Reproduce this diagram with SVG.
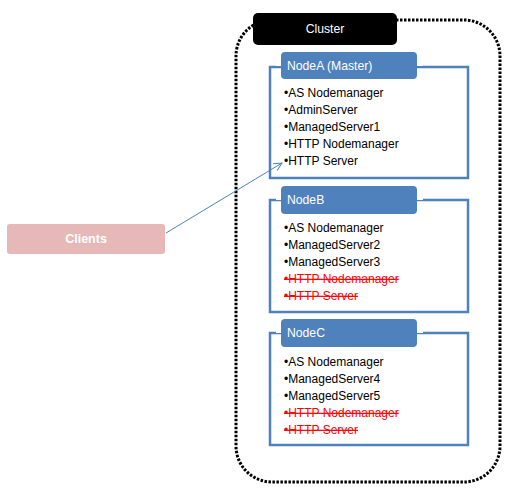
<svg xmlns="http://www.w3.org/2000/svg" width="513" height="499" viewBox="0 0 513 499">
<defs>
<style>
.box{fill:#fff;stroke:#4f81bd;stroke-width:2.5}
.hdr{fill:#4f81bd}
.ht{fill:#fff;font-family:"Liberation Sans",Arial,sans-serif;font-size:12.2px}
.it{fill:#000;font-family:"Liberation Sans",Arial,sans-serif;font-size:12px}
.del{fill:#ff0000;text-decoration:line-through}
</style>
<marker id="arr" markerWidth="10" markerHeight="10" refX="9" refY="5" orient="auto" markerUnits="userSpaceOnUse">
<path d="M1,1 L9,5 L1,9" fill="none" stroke="#4f81bd" stroke-width="1"/>
</marker>
</defs>
<rect width="513" height="499" fill="#fff"/>
<g id="cluster">
<rect x="236" y="20" width="264" height="462" rx="36" ry="36" fill="none" stroke="#000" stroke-width="3" stroke-dasharray="2.5,1.5"/>
<rect x="253" y="13" width="144" height="32" rx="5" fill="#000"/>
<text x="325" y="33" text-anchor="middle" class="ht" font-size="13">Cluster</text>
</g>
<g id="nodeA">
<rect class="box" x="270" y="67" width="198" height="111"/>
<rect x="276" y="52" width="147" height="14" fill="#fff"/>
<rect class="hdr" x="281" y="52" width="136" height="27" rx="4"/>
<text class="ht" x="287" y="70">NodeA (Master)</text>
<text class="it" x="284" y="97">•AS Nodemanager</text>
<text class="it" x="284" y="114">•AdminServer</text>
<text class="it" x="284" y="131">•ManagedServer1</text>
<text class="it" x="284" y="148">•HTTP Nodemanager</text>
<text class="it" x="284" y="165">•HTTP Server</text>
</g>
<g id="nodeB">
<rect class="box" x="270" y="200" width="198" height="112"/>
<rect x="276" y="186" width="147" height="14" fill="#fff"/>
<rect class="hdr" x="281" y="186" width="136" height="28" rx="4"/>
<text class="ht" x="287" y="204">NodeB</text>
<text class="it" x="284" y="232">•AS Nodemanager</text>
<text class="it" x="284" y="249">•ManagedServer2</text>
<text class="it" x="284" y="266">•ManagedServer3</text>
<text class="it del" x="284" y="283">•HTTP Nodemanager</text>
<text class="it del" x="284" y="300">•HTTP Server</text>
</g>
<g id="nodeC">
<rect class="box" x="270" y="333" width="198" height="112"/>
<rect x="276" y="319" width="147" height="14" fill="#fff"/>
<rect class="hdr" x="281" y="319" width="136" height="28" rx="4"/>
<text class="ht" x="287" y="337">NodeC</text>
<text class="it" x="284" y="366">•AS Nodemanager</text>
<text class="it" x="284" y="383">•ManagedServer4</text>
<text class="it" x="284" y="400">•ManagedServer5</text>
<text class="it del" x="284" y="417">•HTTP Nodemanager</text>
<text class="it del" x="284" y="434">•HTTP Server</text>
</g>
<g id="clients">
<rect x="7" y="224" width="158" height="30" rx="3" fill="#e6b8b7"/>
<text x="86" y="243" text-anchor="middle" fill="#fff" font-family="'Liberation Sans',Arial,sans-serif" font-size="12.5" font-weight="bold">Clients</text>
</g>
<g id="connectors">
<line x1="166" y1="233" x2="282" y2="163" stroke="#4f81bd" stroke-width="1" marker-end="url(#arr)"/>
</g>
</svg>
